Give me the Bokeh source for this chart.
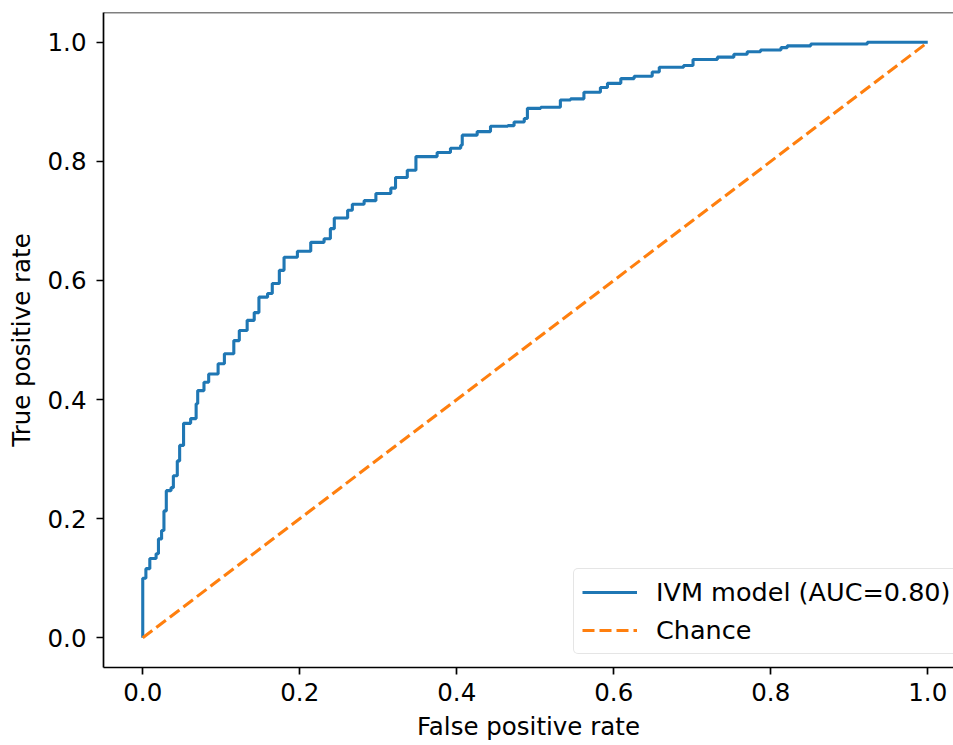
from bokeh.plotting import figure
from bokeh.models import Range1d, FixedTicker, PrintfTickFormatter, Span, Legend
from bokeh.embed import file_html
from bokeh.resources import INLINE

# ROC curve corner points (top-left corners of staircase steps)
fpr = [0.0, 0.0, 0.004, 0.009, 0.017, 0.02, 0.024, 0.027, 0.03, 0.036, 0.039, 0.044, 0.047,
       0.052, 0.061, 0.068, 0.07, 0.078, 0.084, 0.096, 0.104, 0.116, 0.123, 0.133, 0.142,
       0.148, 0.159, 0.165, 0.174, 0.18, 0.197, 0.214, 0.231, 0.239, 0.244, 0.261, 0.267,
       0.282, 0.297, 0.316, 0.322, 0.337, 0.348, 0.375, 0.392, 0.405, 0.407, 0.426, 0.443,
       0.465, 0.473, 0.486, 0.49, 0.507, 0.532, 0.545, 0.562, 0.583, 0.592, 0.609, 0.626,
       0.649, 0.658, 0.689, 0.701, 0.732, 0.753, 0.77, 0.787, 0.813, 0.821, 0.851, 0.923, 1.0]
tpr = [0.0, 0.1, 0.116, 0.133, 0.141, 0.166, 0.18, 0.213, 0.247, 0.252, 0.272, 0.297, 0.323,
       0.36, 0.368, 0.393, 0.415, 0.429, 0.443, 0.46, 0.477, 0.499, 0.516, 0.533, 0.546,
       0.572, 0.578, 0.595, 0.617, 0.639, 0.649, 0.664, 0.67, 0.687, 0.705, 0.718, 0.728,
       0.734, 0.746, 0.755, 0.773, 0.785, 0.808, 0.815, 0.822, 0.827, 0.844, 0.85, 0.859,
       0.86, 0.866, 0.872, 0.889, 0.891, 0.903, 0.905, 0.916, 0.924, 0.931, 0.939, 0.943,
       0.95, 0.958, 0.961, 0.971, 0.975, 0.98, 0.984, 0.987, 0.991, 0.994, 0.997, 1.0, 1.0]

chance_x = [0.0, 1.0]
chance_y = [0.0, 1.0]

tick_values = [0.0, 0.2, 0.4, 0.6, 0.8, 1.0]
model_label = "IVM model (AUC=0.80)"
chance_label = "Chance"
x_title = "False positive rate"
y_title = "True positive rate"

FONT = "DejaVu Sans"
FS = "24.5px"
LFS = "25.5px"

W, H = 953, 745
BL, BR, BT, BB = 103, 0, 12, 78
frame_w = W - BL - BR
x_end = -0.05 + frame_w / 785.0

p = figure(width=W, height=H, output_backend="svg", toolbar_location=None,
           x_range=Range1d(-0.05, x_end), y_range=Range1d(-0.05, 1.05),
           min_border_left=BL, min_border_right=BR, min_border_top=BT, min_border_bottom=BB)
p.outline_line_color = None
p.grid.visible = False
p.background_fill_color = "white"
p.border_fill_color = "white"

for ax in (p.xaxis[0], p.yaxis[0]):
    ax.ticker = FixedTicker(ticks=tick_values)
    ax.formatter = PrintfTickFormatter(format="%.1f")
    ax.major_label_text_font = FONT
    ax.major_label_text_font_size = FS
    ax.major_label_text_color = "black"
    ax.axis_label_text_font = FONT
    ax.axis_label_text_font_size = FS
    ax.axis_label_text_font_style = "normal"
    ax.axis_label_text_color = "black"
    ax.axis_line_width = 1.7
    ax.axis_line_color = "black"
    ax.major_tick_line_width = 1.7
    ax.major_tick_line_color = "black"
    ax.major_tick_out = 7
    ax.major_tick_in = 0
    ax.minor_tick_line_color = None

p.xaxis.major_label_standoff = 8
p.yaxis.major_label_standoff = 10
p.xaxis.axis_label_standoff = 8
p.yaxis.axis_label_standoff = 9

p.xaxis.axis_label = x_title
p.yaxis.axis_label = y_title

top_spine = Span(location=1.05, dimension="width", line_color="black", line_width=1.7)
p.add_layout(top_spine)

r1 = p.step(fpr, tpr, mode="after", line_color="#1f77b4", line_width=3.1)
r2 = p.line(chance_x, chance_y, line_color="#ff7f0e", line_width=3.1, line_dash="12 5")

legend = Legend(items=[(model_label, [r1]), (chance_label, [r2])],
                location=(470, 13))
legend.label_text_font = FONT
legend.label_text_font_size = LFS
legend.label_text_color = "black"
legend.glyph_width = 55
legend.glyph_height = 28
legend.label_height = 28
legend.label_standoff = 19
legend.padding = 8
legend.spacing = 8
legend.margin = 0
legend.border_line_color = "#cccccc"
legend.border_line_width = 1.5
legend.border_radius = 5
legend.background_fill_alpha = 0.8
p.add_layout(legend, "center")

open("out.html", "w").write(file_html(p, INLINE))
